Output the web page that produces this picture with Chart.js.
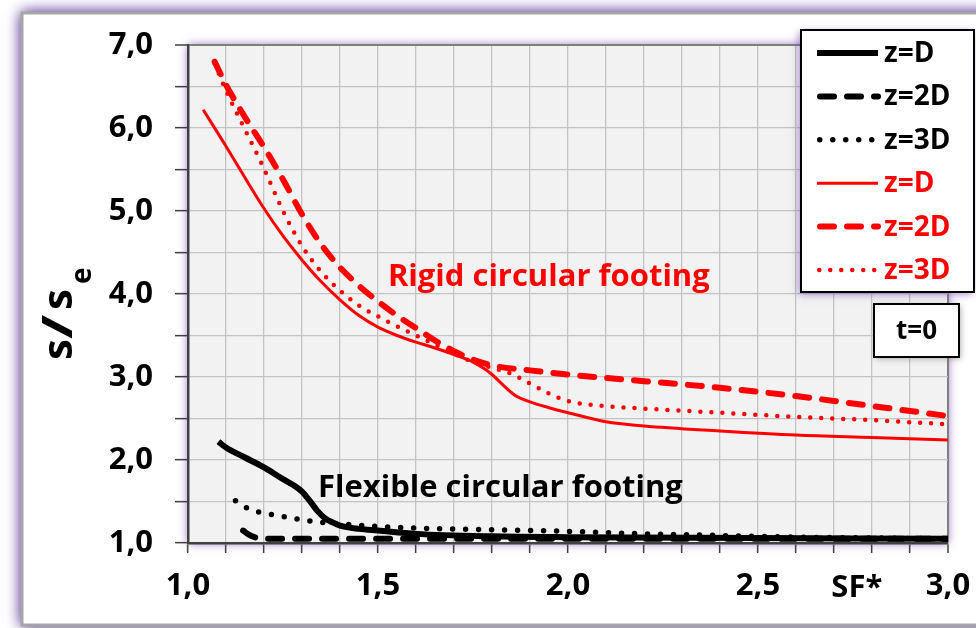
<!DOCTYPE html>
<html>
<head>
<meta charset="utf-8">
<script src="https://cdn.jsdelivr.net/npm/chart.js@4.4.0/dist/chart.umd.min.js"></script>
<style>
  html, body { margin: 0; padding: 0; background: #ffffff; }
  #wrap { width: 976px; height: 628px; position: relative; }
</style>
</head>
<body>
<div id="wrap"><canvas id="c" width="976" height="628"></canvas></div>
<script>
// Normalised settlement s/se against safety factor SF*, one pair of arrays per curve.

// Flexible circular footing
const flexD_sf  = [1.08, 1.10, 1.15, 1.20, 1.25, 1.28, 1.30, 1.32, 1.34, 1.36, 1.38, 1.40, 1.45, 1.50, 1.60, 1.80, 2.00, 2.50, 3.00];
const flexD_s   = [2.22, 2.15, 2.03, 1.91, 1.77, 1.69, 1.62, 1.51, 1.39, 1.30, 1.25, 1.21, 1.17, 1.15, 1.11, 1.08, 1.07, 1.06, 1.05];

const flex2D_sf = [1.145, 1.16, 1.175, 1.20, 1.30, 1.50, 2.00, 2.50, 3.00];
const flex2D_s  = [1.15, 1.10, 1.07, 1.05, 1.05, 1.05, 1.05, 1.05, 1.05];

const flex3D_sf = [1.125, 1.16, 1.20, 1.25, 1.30, 1.35, 1.40, 1.50, 1.60, 1.80, 2.00, 2.20, 2.40, 2.60, 2.80, 3.00];
const flex3D_s  = [1.51, 1.41, 1.36, 1.32, 1.28, 1.25, 1.23, 1.20, 1.18, 1.16, 1.14, 1.11, 1.09, 1.07, 1.06, 1.05];

// Rigid circular footing
const rigidD_sf  = [1.04, 1.10, 1.15, 1.20, 1.25, 1.30, 1.35, 1.40, 1.45, 1.50, 1.55, 1.60, 1.65, 1.70, 1.75, 1.78, 1.80, 1.83, 1.86, 1.90, 1.95, 2.00, 2.10, 2.20, 2.40, 2.60, 2.80, 3.00];
const rigidD_s   = [6.22, 5.78, 5.40, 5.03, 4.70, 4.41, 4.15, 3.93, 3.74, 3.60, 3.50, 3.42, 3.35, 3.27, 3.18, 3.10, 3.03, 2.90, 2.78, 2.70, 2.63, 2.57, 2.46, 2.41, 2.35, 2.30, 2.27, 2.24];

const rigid2D_sf = [1.07, 1.10, 1.15, 1.20, 1.25, 1.30, 1.35, 1.40, 1.45, 1.50, 1.55, 1.60, 1.65, 1.70, 1.75, 1.80, 1.90, 2.00, 2.20, 2.40, 2.60, 2.80, 3.00];
const rigid2D_s  = [6.80, 6.52, 6.13, 5.77, 5.38, 4.96, 4.60, 4.32, 4.10, 3.91, 3.74, 3.59, 3.44, 3.31, 3.21, 3.14, 3.08, 3.03, 2.95, 2.87, 2.77, 2.65, 2.53];

const rigid3D_sf = [1.07, 1.10, 1.15, 1.20, 1.25, 1.30, 1.35, 1.40, 1.45, 1.50, 1.55, 1.60, 1.65, 1.70, 1.75, 1.80, 1.85, 1.90, 1.95, 2.00, 2.10, 2.20, 2.40, 2.60, 2.80, 3.00];
const rigid3D_s  = [6.78, 6.45, 5.98, 5.51, 5.00, 4.58, 4.27, 4.04, 3.86, 3.73, 3.61, 3.50, 3.39, 3.28, 3.18, 3.11, 3.04, 2.92, 2.80, 2.71, 2.65, 2.62, 2.57, 2.52, 2.48, 2.43];

// Axis ticks that carry a printed label
const xLabelled = [1.0, 1.5, 2.0, 2.5, 3.0];
const yLabelled = [1, 2, 3, 4, 5, 6, 7];
const xAxisName = 'SF*';
const xAxisNameAt = 2.76;

// Text placed inside the plot
const notes = [
  { text: 'Rigid circular footing',    x: 1.526, y: 4.10, color: '#ff0000' },
  { text: 'Flexible circular footing', x: 1.342, y: 1.56, color: '#000000' }
];
const boxNote = 't=0';

const FONT = '"Open Sans", "DejaVu Sans", sans-serif';
const pts = (xs, ys) => xs.map((x, i) => ({ x: x, y: ys[i] }));
const isLabelled = (v, list) => list.some(t => Math.abs(t - v) < 1e-6);
const fmt = v => v.toFixed(1).replace('.', ',');

const DASH = [14, 13];

function curve(label, xs, ys, color, width, dash) {
  return {
    label: label,
    data: pts(xs, ys),
    borderColor: color,
    backgroundColor: color,
    borderWidth: width,
    borderDash: dash,
    borderCapStyle: dash.length ? 'round' : 'butt',
    borderJoinStyle: 'round',
    pointRadius: 0,
    pointHoverRadius: 0,
    fill: false,
    cubicInterpolationMode: 'monotone'
  };
}

const datasets = [
  curve('z=D',  flexD_sf,   flexD_s,   '#000000', 6,   []),
  curve('z=2D', flex2D_sf,  flex2D_s,  '#000000', 6,   DASH),
  curve('z=3D', flex3D_sf,  flex3D_s,  '#000000', 5.5, [0, 13]),
  curve('z=D',  rigidD_sf,  rigidD_s,  '#ff0000', 3,   []),
  curve('z=2D', rigid2D_sf, rigid2D_s, '#ff0000', 6,   DASH),
  curve('z=3D', rigid3D_sf, rigid3D_s, '#ff0000', 4.5, [0, 11])
];

// Page panel and plot background
const panel = {
  id: 'panel',
  beforeDraw(chart) {
    const { ctx, chartArea: a } = chart;
    ctx.save();
    ctx.fillStyle = '#ffffff';
    ctx.fillRect(0, 0, chart.width, chart.height);
    ctx.shadowColor = 'rgba(118,88,168,1)';
    ctx.shadowBlur = 14;
    ctx.fillStyle = '#ffffff';
    ctx.fillRect(22, 13, 990, 612);
    ctx.fillRect(22, 13, 990, 612);
    ctx.shadowColor = 'transparent';
    ctx.strokeStyle = '#a6a6a6';
    ctx.lineWidth = 3;
    ctx.strokeRect(22, 13, 990, 612);
    ctx.shadowColor = 'rgba(112,60,170,0.75)';
    ctx.shadowBlur = 9;
    ctx.fillStyle = '#f2f2f2';
    ctx.fillRect(a.left, a.top, a.right - a.left, a.bottom - a.top);
    ctx.restore();
  }
};

// Notes, axis names, legend and time box
const overlay = {
  id: 'overlay',
  afterDatasetsDraw(chart) {
    const { ctx } = chart;
    const xs = chart.scales.x, ys = chart.scales.y;
    ctx.save();
    ctx.font = 'bold 31px ' + FONT;
    ctx.textBaseline = 'alphabetic';
    ctx.textAlign = 'left';
    notes.forEach(n => {
      ctx.fillStyle = n.color;
      ctx.fillText(n.text, xs.getPixelForValue(n.x), ys.getPixelForValue(n.y));
    });
    ctx.restore();
  },
  afterDraw(chart) {
    const { ctx, chartArea: a } = chart;
    const xs = chart.scales.x;
    ctx.save();

    // x axis name beside the tick labels
    ctx.font = 'bold 31px ' + FONT;
    ctx.fillStyle = '#000000';
    ctx.textAlign = 'center';
    ctx.textBaseline = 'middle';
    ctx.fillText(xAxisName, xs.getPixelForValue(xAxisNameAt), a.bottom + 45);

    // y axis name s/se, rotated
    ctx.save();
    ctx.translate(72, 311);
    ctx.rotate(-Math.PI / 2);
    ctx.textAlign = 'left';
    ctx.textBaseline = 'alphabetic';
    ctx.font = 'bold 42px ' + FONT;
    const start = -49;
    ctx.fillText('s', start, 0);
    ctx.save();
    ctx.translate(start + 21, 0);
    ctx.scale(1.4, 1);
    ctx.fillText('/', 0, 0);
    ctx.restore();
    ctx.fillText('s', start + 50, 0);
    ctx.font = 'bold 28px ' + FONT;
    ctx.fillText('e', start + 76, 19);
    ctx.restore();

    // legend
    const lx = 801, ly = 30, lw = 173, lh = 262;
    ctx.save();
    ctx.shadowColor = 'rgba(112,60,170,0.6)';
    ctx.shadowBlur = 8;
    ctx.shadowOffsetX = -2;
    ctx.shadowOffsetY = 2;
    ctx.fillStyle = '#ffffff';
    ctx.fillRect(lx, ly, lw, lh);
    ctx.restore();
    ctx.strokeStyle = '#000000';
    ctx.lineWidth = 2;
    ctx.strokeRect(lx, ly, lw, lh);
    chart.data.datasets.forEach((ds, i) => {
      const y = 53 + i * 43.4;
      const w = ds.borderWidth;
      ctx.save();
      ctx.beginPath();
      ctx.strokeStyle = ds.borderColor;
      ctx.lineWidth = w;
      ctx.setLineDash(ds.borderDash);
      ctx.lineCap = ds.borderCapStyle;
      const x0 = ds.borderDash.length ? 817 + w / 2 : 817;
      ctx.moveTo(x0, y);
      ctx.lineTo(878, y);
      ctx.stroke();
      ctx.restore();
      ctx.fillStyle = ds.borderColor;
      ctx.font = 'bold 28px ' + FONT;
      ctx.textAlign = 'left';
      ctx.textBaseline = 'middle';
      ctx.fillText(ds.label, 884, y + 1);
    });

    // time box
    const bx = 874, by = 304, bw = 85, bh = 53;
    ctx.save();
    ctx.shadowColor = 'rgba(90,90,90,0.45)';
    ctx.shadowBlur = 6;
    ctx.shadowOffsetX = 2;
    ctx.shadowOffsetY = 2;
    ctx.fillStyle = '#ffffff';
    ctx.fillRect(bx, by, bw, bh);
    ctx.restore();
    ctx.strokeStyle = '#000000';
    ctx.lineWidth = 2;
    ctx.strokeRect(bx, by, bw, bh);
    ctx.fillStyle = '#000000';
    ctx.font = 'bold 26px ' + FONT;
    ctx.textAlign = 'center';
    ctx.textBaseline = 'middle';
    ctx.fillText(boxNote, bx + bw / 2, by + bh / 2 + 1);

    ctx.restore();
  }
};

function draw() {
  Chart.defaults.font.family = FONT;
  new Chart(document.getElementById('c'), {
    type: 'line',
    data: { datasets: datasets },
    options: {
      responsive: false,
      devicePixelRatio: 1,
      animation: false,
      events: [],
      layout: { padding: { left: 0, right: 28, top: 45, bottom: 0 } },
      plugins: { legend: { display: false }, tooltip: { enabled: false } },
      scales: {
        x: {
          type: 'linear',
          min: 1, max: 3,
          afterFit(s) { s.height = 85; s.paddingLeft = 0; s.paddingRight = 0; },
          ticks: {
            stepSize: 0.1,
            autoSkip: false,
            maxRotation: 0,
            padding: 15,
            color: '#000000',
            font: { size: 31, weight: 'bold' },
            callback: v => isLabelled(v, xLabelled) ? fmt(v) : ''
          },
          grid: {
            color: c => (c.tick && Math.abs(c.tick.value - 3) < 1e-6) ? '#7f7f7f' : '#c3c3c3',
            lineWidth: c => (c.tick && Math.abs(c.tick.value - 3) < 1e-6) ? 2 : 1.3,
            tickColor: '#404040',
            tickWidth: 1.5,
            tickLength: 10,
            drawTicks: true
          },
          border: { color: '#404040', width: 2.5 }
        },
        y: {
          type: 'linear',
          min: 1, max: 7,
          afterFit(s) { s.width = 188; s.paddingTop = 0; s.paddingBottom = 0; },
          ticks: {
            stepSize: 0.5,
            autoSkip: false,
            padding: 22,
            color: '#000000',
            font: { size: 31, weight: 'bold' },
            callback: v => isLabelled(v, yLabelled) ? fmt(v) : ''
          },
          grid: {
            color: c => (c.tick && Math.abs(c.tick.value - 7) < 1e-6) ? '#7f7f7f' : '#c3c3c3',
            lineWidth: c => (c.tick && Math.abs(c.tick.value - 7) < 1e-6) ? 2 : 1.3,
            tickColor: '#404040',
            tickWidth: 1.5,
            tickLength: 13
          },
          border: { color: '#404040', width: 2.5 }
        }
      }
    },
    plugins: [panel, overlay]
  });
}

if (document.fonts && document.fonts.load) {
  Promise.all([
    document.fonts.load('bold 31px "Open Sans"'),
    document.fonts.load('31px "Open Sans"')
  ]).then(draw, draw);
} else {
  draw();
}
</script>
</body>
</html>
